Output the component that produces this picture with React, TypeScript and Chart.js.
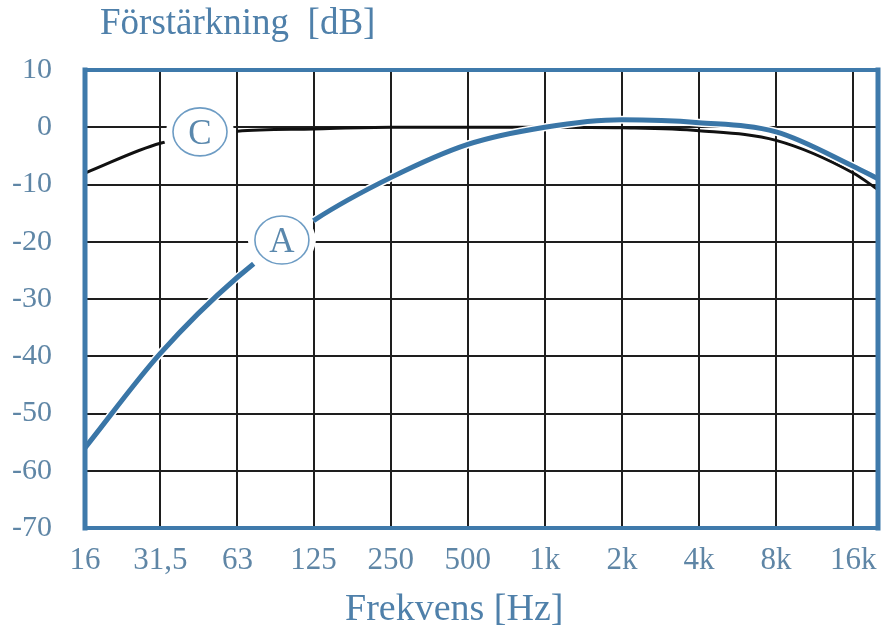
import React, { useEffect, useRef } from "react";
import { Chart, registerables } from "chart.js";

Chart.register(...registerables);

// ---- data ----
const FREQ_HZ = [16, 31.5, 63, 125, 250, 500, 1000, 2000, 4000, 8000, 16000, 20000];
const A_WEIGHT_DB = [-56, -39.5, -26.2, -16.3, -8.8, -3.0, 0, 1.3, 0.8, -0.8, -6.8, -9.0];
const C_WEIGHT_DB = [-8, -2.8, -0.7, -0.3, 0, 0, 0, -0.1, -0.6, -2.3, -8.0, -10.9];

const X_TICK_VALUES = [16, 31.5, 63, 125, 250, 500, 1000, 2000, 4000, 8000, 16000];
const X_TICK_LABELS = ["16", "31,5", "63", "125", "250", "500", "1k", "2k", "4k", "8k", "16k"];
const Y_TICK_VALUES = [10, 0, -10, -20, -30, -40, -50, -60, -70];

const Y_TITLE = "Förstärkning  [dB]";
const X_TITLE = "Frekvens [Hz]";

// curve labels (circled letters), positioned in data units
const CURVE_LABEL_TEXT = ["C", "A"];
const CURVE_LABEL_FREQ = [45, 94];
const CURVE_LABEL_DB = [-0.8, -19.7];

const SERIF = '"Liberation Serif", "Times New Roman", serif';
const FRAME_BLUE = "#3f7aab";
const CURVE_BLUE = "#3a76a7";
const TITLE_COLOR = "#4f80aa";
const TICK_COLOR = "#5f86a6";
const GRID_COLOR = "#1e1e1e";

const labelPlugin = {
  id: "curveLabels",
  beforeDatasetsDraw(chart: any) {
    const { ctx, scales } = chart;
    const xs = scales.x, ys = scales.y;
    const pts = CURVE_LABEL_TEXT.map((_, i) => [
      xs.getPixelForValue(CURVE_LABEL_FREQ[i]),
      ys.getPixelForValue(CURVE_LABEL_DB[i]),
    ]);
    ctx.save();
    ctx.fillStyle = "#ffffff";
    for (const [cx, cy] of pts) {
      ctx.beginPath();
      ctx.ellipse(cx, cy, 34, 28, 0, 0, Math.PI * 2);
      ctx.fill();
    }
    ctx.restore();
    ctx.save();
    ctx.beginPath();
    ctx.rect(0, 0, chart.width, chart.height);
    for (const [cx, cy] of pts) {
      ctx.moveTo(cx + 37, cy);
      ctx.arc(cx, cy, 37, 0, Math.PI * 2);
    }
    ctx.clip("evenodd");
  },
  afterDatasetsDraw(chart: any) {
    const { ctx, scales } = chart;
    ctx.restore();
    const xs = scales.x, ys = scales.y;
    ctx.save();
    CURVE_LABEL_TEXT.forEach((t, i) => {
      const cx = xs.getPixelForValue(CURVE_LABEL_FREQ[i]);
      const cy = ys.getPixelForValue(CURVE_LABEL_DB[i]);
      ctx.beginPath();
      ctx.ellipse(cx, cy, 27, 24, 0, 0, Math.PI * 2);
      ctx.strokeStyle = "#6d9cc4";
      ctx.lineWidth = 1.6;
      ctx.stroke();
      ctx.fillStyle = "#5a88ad";
      ctx.font = `35px ${SERIF}`;
      ctx.textAlign = "center";
      ctx.textBaseline = "alphabetic";
      ctx.fillText(t, cx, cy + 12);
    });
    ctx.restore();
  },
  afterDraw(chart: any) {
    const { ctx, chartArea: a } = chart;
    ctx.save();
    ctx.strokeStyle = FRAME_BLUE;
    ctx.lineCap = "square";
    const side = (x1: number, y1: number, x2: number, y2: number, w: number) => {
      ctx.beginPath();
      ctx.lineWidth = w;
      ctx.moveTo(x1, y1);
      ctx.lineTo(x2, y2);
      ctx.stroke();
    };
    side(a.left, a.top, a.right, a.top, 4);
    side(a.left, a.bottom, a.right, a.bottom, 4);
    side(a.left, a.top, a.left, a.bottom, 5);
    side(a.right, a.top, a.right, a.bottom, 5);

    ctx.fillStyle = TITLE_COLOR;
    ctx.textAlign = "left";
    ctx.textBaseline = "alphabetic";
    ctx.font = `37px ${SERIF}`;
    ctx.fillText(Y_TITLE, a.left + 15, 34);
    ctx.font = `38px ${SERIF}`;
    ctx.fillText(X_TITLE, a.left + 260, 620);
    ctx.restore();
  },
};

export default function App() {
  const ref = useRef<HTMLCanvasElement | null>(null);

  useEffect(() => {
    if (!ref.current) return;
    const chart = new Chart(ref.current, {
      type: "line",
      data: {
        labels: FREQ_HZ,
        datasets: [
          {
            label: "A",
            data: FREQ_HZ.map((f, i) => ({ x: f, y: A_WEIGHT_DB[i] })),
            borderColor: CURVE_BLUE,
            borderWidth: 5,
            pointRadius: 0,
            cubicInterpolationMode: "monotone",
            fill: false,
          },
          {
            label: "A-halo",
            data: FREQ_HZ.map((f, i) => ({ x: f, y: A_WEIGHT_DB[i] })),
            borderColor: "#ffffff",
            borderWidth: 8,
            pointRadius: 0,
            cubicInterpolationMode: "monotone",
            fill: false,
          },
          {
            label: "C",
            data: FREQ_HZ.map((f, i) => ({ x: f, y: C_WEIGHT_DB[i] })),
            borderColor: "#111111",
            borderWidth: 3,
            pointRadius: 0,
            cubicInterpolationMode: "monotone",
            fill: false,
          },
        ],
      },
      options: {
        responsive: false,
        animation: false,
        devicePixelRatio: 1,
        layout: { padding: { left: 0, right: 7, top: 70, bottom: 0 } },
        plugins: {
          legend: { display: false },
          tooltip: { enabled: false },
          title: { display: false },
        },
        scales: {
          x: {
            type: "logarithmic",
            min: 16,
            max: 20000,
            afterBuildTicks: (s: any) => {
              s.ticks = X_TICK_VALUES.map((v) => ({ value: v }));
            },
            afterFit: (s: any) => {
              s.height = 104;
              s.paddingLeft = 0;
              s.paddingRight = 0;
            },
            ticks: {
              autoSkip: false,
              maxRotation: 0,
              minRotation: 0,
              padding: 14,
              color: TICK_COLOR,
              font: { family: SERIF, size: 31 },
              callback: (_v: any, i: number) => X_TICK_LABELS[i],
            },
            grid: { color: GRID_COLOR, lineWidth: 2, drawTicks: false },
            border: { display: false },
          },
          y: {
            type: "linear",
            min: -70,
            max: 10,
            afterBuildTicks: (s: any) => {
              s.ticks = Y_TICK_VALUES.map((v) => ({ value: v }));
            },
            afterFit: (s: any) => {
              s.width = 85;
              s.paddingTop = 0;
              s.paddingBottom = 0;
            },
            ticks: {
              padding: 33,
              color: TICK_COLOR,
              font: { family: SERIF, size: 30 },
              callback: (v: any) => String(v),
            },
            grid: { color: GRID_COLOR, lineWidth: 2, drawTicks: false },
            border: { display: false },
          },
        },
      },
      plugins: [labelPlugin],
    } as any);
    return () => chart.destroy();
  }, []);

  return (
    <div style={{ position: "fixed", left: 0, top: 0, width: 885, height: 632, background: "#fff" }}>
      <canvas ref={ref} width={885} height={632} style={{ width: 885, height: 632, display: "block" }} />
    </div>
  );
}
